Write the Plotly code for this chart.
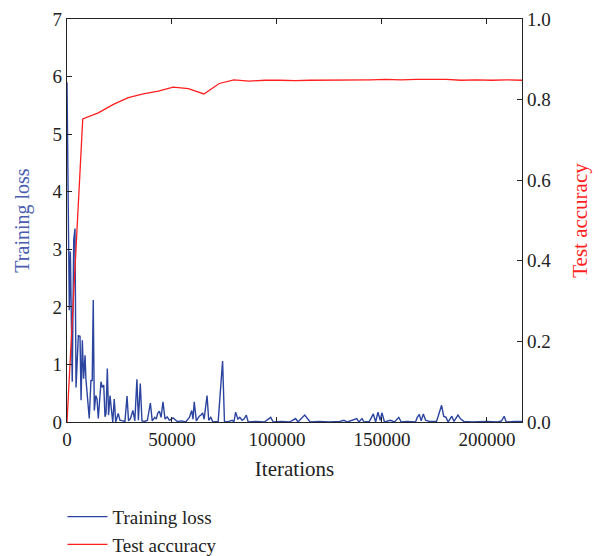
import plotly.graph_objects as go

# Training loss, sampled at the logged iterations
loss_iter = [0, 1100, 1600, 2100, 2500, 3200, 3800, 4300, 5400, 6200, 6700, 7300, 7900, 8600, 9000,
             10600, 11400, 12000, 12500, 13000, 13700, 14300, 14900, 16200, 16800, 17500, 18100, 18600,
             19200, 19800, 20500, 21100, 21800, 22500, 23200, 24400, 25200, 26500, 27600, 28600, 29300,
             30200, 31400, 32300, 33300, 34000, 34900, 35700, 37000, 38300, 39700, 40600, 41800, 42500,
             43200, 44000, 44800, 45700, 46700, 47700, 48800, 50500, 52500, 54500, 56500, 58300, 59400,
             60000, 60600, 61600, 63000, 63800, 64600, 65300, 66700, 67500, 68500, 69500, 72000, 74100,
             75000, 77000, 78700, 79500, 80300, 81400, 82300, 83400, 84300, 85400, 86300, 90000, 94000,
             97000, 98200, 102000, 106000, 108900, 110000, 113200, 114600, 115800, 120000, 125000, 130000,
             131900, 133500, 138000, 139000, 140500, 141500, 144000, 145900, 147000, 148100, 149200,
             150000, 151200, 154000, 156000, 158000, 159200, 162000, 166000, 166800, 167800, 168700,
             169700, 170800, 172500, 176000, 178400, 179400, 180500, 181500, 183300, 184300, 186200,
             187500, 189000, 193000, 200000, 205000, 207000, 208200, 209200, 213000, 216700]
loss = [5.9, 1.94, 2.96, 1.95, 0.7, 3.16, 3.36, 0.6, 1.5, 1.49, 0.38, 1.42, 0.75, 1.16, 0.75,
        0.06, 0.72, 0.72, 2.12, 0.2, 0.46, 0.4, 0.06, 0.7, 0.6, 0.64, 0.09, 0.15,
        0.93, 0.12, 0.46, 0.23, 0.0, 0.4, 0.0, 0.15, 0.03, 0.02, 0.01, 0.45, 0.02,
        0.06, 0.2, 0.02, 0.74, 0.03, 0.67, 0.02, 0.01, 0.03, 0.33, 0.02, 0.08, 0.05,
        0.15, 0.19, 0.08, 0.35, 0.05, 0.09, 0.03, 0.07, 0.01, 0.02, 0.0, 0.08, 0.2,
        0.05, 0.35, 0.02, 0.1, 0.12, 0.16, 0.05, 0.46, 0.03, 0.08, 0.0, 0.01, 1.06,
        0.0, 0.01, 0.03, 0.0, 0.17, 0.05, 0.08, 0.03, 0.05, 0.12, 0.0, 0.01, 0.0,
        0.08, 0.0, 0.01, 0.0, 0.06, 0.0, 0.12, 0.06, 0.0, 0.01, 0.0, 0.01,
        0.03, 0.0, 0.06, 0.0, 0.06, 0.0, 0.01, 0.14, 0.0, 0.17, 0.03,
        0.16, 0.0, 0.03, 0.0, 0.08, 0.0, 0.01, 0.0, 0.08, 0.13, 0.02,
        0.14, 0.03, 0.01, 0.01, 0.29, 0.1, 0.08, 0.0, 0.1, 0.01, 0.12,
        0.05, 0.01, 0.0, 0.01, 0.0, 0.02, 0.1, 0.0, 0.01, 0.01]

# Test accuracy, evaluated periodically
acc_iter = [0, 7500, 14900, 22100, 29200, 36300, 43500, 50600, 57800, 65200, 72500, 79500, 86700,
            94300, 101500, 108600, 115800, 123000, 130200, 137400, 144600, 151800, 159000, 166200,
            173400, 180600, 187800, 195000, 202200, 209400, 216700]
acc = [0.0, 0.752, 0.767, 0.788, 0.805, 0.814, 0.821, 0.831, 0.827, 0.814, 0.840, 0.849, 0.846,
       0.848, 0.848, 0.847, 0.848, 0.848, 0.849, 0.849, 0.849, 0.850, 0.849, 0.850,
       0.850, 0.850, 0.848, 0.849, 0.848, 0.849, 0.848]

x_ticks = [0, 50000, 100000, 150000, 200000]
loss_ticks = [0, 1, 2, 3, 4, 5, 6, 7]
acc_ticks = [0.0, 0.2, 0.4, 0.6, 0.8, 1.0]

FONT = "Liberation Serif"
BLUE = "#2a44a0"
RED = "#ff1f1f"

fig = go.Figure()
fig.add_trace(go.Scatter(x=loss_iter, y=loss, mode="lines", name="Training loss",
                         line=dict(color=BLUE, width=1.4), yaxis="y"))
fig.add_trace(go.Scatter(x=acc_iter, y=acc, mode="lines", name="Test accuracy",
                         line=dict(color=RED, width=1.3), yaxis="y2"))

axis_common = dict(showline=True, linecolor="#222", linewidth=1.2, ticks="inside",
                   ticklen=5, tickcolor="#222", showgrid=False, zeroline=False,
                   tickfont=dict(family=FONT, size=19, color="#222"))

fig.update_layout(
    width=602, height=556,
    margin=dict(l=67, r=80, t=19, b=134, autoexpand=False),
    paper_bgcolor="white", plot_bgcolor="white",
    font=dict(family=FONT, size=19, color="#222"),
    xaxis=dict(range=[0, 216700], tickvals=x_ticks, ticktext=[str(v) for v in x_ticks],
               mirror="ticks",
               title=dict(text="Iterations", font=dict(family=FONT, size=21, color="#222"), standoff=12),
               **axis_common),
    yaxis=dict(range=[0, 7], tickvals=loss_ticks,
               title=dict(text="Training loss", font=dict(family=FONT, size=20, color="#4a5db0"), standoff=17),
               **axis_common),
    yaxis2=dict(range=[0, 1], tickvals=acc_ticks, tickformat=".1f", overlaying="y", side="right",
                title=dict(text="Test accuracy", font=dict(family=FONT, size=21, color=RED), standoff=22),
                **axis_common),
    legend=dict(x=-0.01, y=-0.188, xanchor="left", yanchor="top", orientation="v", itemwidth=40,
                font=dict(family=FONT, size=19, color="#222"), bgcolor="rgba(0,0,0,0)"),
    showlegend=True,
)

fig.write_html("out.html")
